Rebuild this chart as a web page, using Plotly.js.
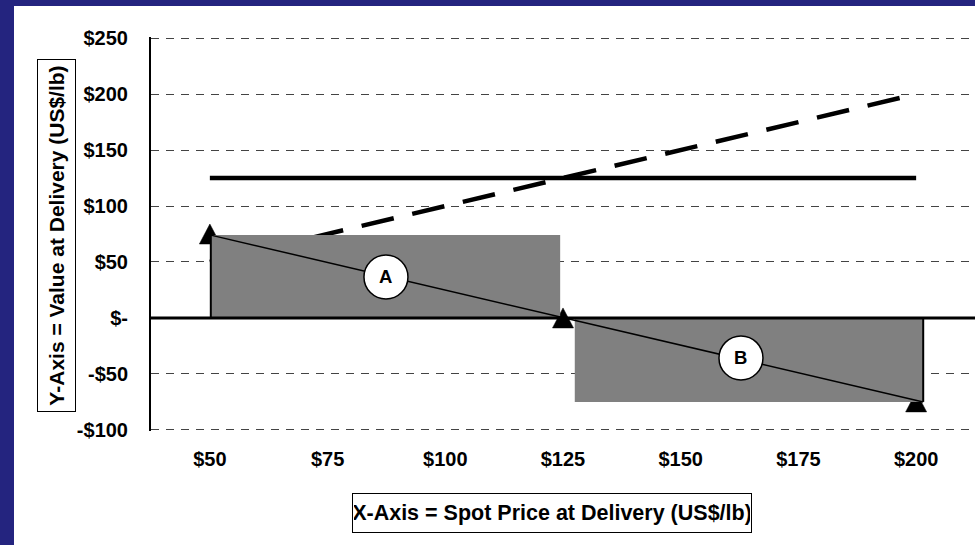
<!DOCTYPE html>
<html><head><meta charset="utf-8">
<script src="https://cdn.plot.ly/plotly-3.0.1.min.js"></script>
<style>html,body{margin:0;padding:0;background:#24247f;overflow:hidden}#chart{width:975px;height:545px}</style>
</head><body><div id="chart"></div>
<script>
// ---- data ----
const spotPrices = [50, 75, 100, 125, 150, 175, 200];
const xTickLabels = ['$50', '$75', '$100', '$125', '$150', '$175', '$200'];
const yTickValues = [250, 200, 150, 100, 50, 0, -50, -100];
const yTickLabels = ['$250', '$200', '$150', '$100', '$50', '$-', '-$50', '-$100'];

// fixed (forward) price line
const fixedX = [50, 200];
const fixedY = [125, 125];
// spot value line (dashed)
const spotX = [50, 200];
const spotY = [50, 200];
// payoff points (triangles)
const payoffX = [50, 125, 200];
const payoffY = [75, 0, -75];

// shaded regions A and B
const regionNames = ['A', 'B'];
const regionX0 = [50.2, 127.5];
const regionX1 = [124.4, 201.5];
const regionY0 = [0, -75];
const regionY1 = [74, 0];
// drawn diagonal
const diagX = [50.2, 201.5];
const diagY = [74, -75];
// label circles
const labelX = [87.4, 162.8];
const labelY = [36.6, -35.7];

// ---- layout helpers ----
const L = 151, R = 975, T = 37, B = 431;
const W = R - L, H = B - T;
const px = x => (x - L) / W;
const py = y => (B - y) / H;
const FONT = 'Liberation Sans, Arial, sans-serif';

const traces = [
  {x: fixedX, y: fixedY, mode: 'lines', line: {color: '#000', width: 4.5}, hoverinfo: 'skip'},
  {x: spotX, y: spotY, mode: 'lines', line: {color: '#000', width: 4.5, dash: '33px,19px'}, hoverinfo: 'skip'},
  // invisible points so the payoff series is part of the plotted data
  {x: payoffX, y: payoffY, mode: 'markers', marker: {size: 1, color: 'rgba(0,0,0,0)'}, hoverinfo: 'skip'}
];

const shapes = [
  // white panel over blue background
  {type: 'rect', xref: 'paper', yref: 'paper', x0: px(14), x1: px(990), y0: py(560), y1: py(6),
   fillcolor: '#ffffff', line: {width: 0}, layer: 'below'}
];
// triangle markers (drawn under the shaded regions)
payoffX.forEach((x, i) => {
  shapes.push({type: 'path', xref: 'x', yref: 'y', xsizemode: 'pixel', ysizemode: 'pixel',
    xanchor: x, yanchor: payoffY[i], path: 'M-10.5,-10 L10.5,-10 L0,10 Z',
    fillcolor: '#000', line: {color: '#000', width: 0.5}, layer: 'above'});
});
regionNames.forEach((n, i) => {
  shapes.push({type: 'rect', xref: 'x', yref: 'y', x0: regionX0[i], x1: regionX1[i], y0: regionY0[i], y1: regionY1[i],
    fillcolor: '#808080', line: {width: 0}, layer: 'above'});
});
// edge lines of the regions
shapes.push({type: 'line', xref: 'x', yref: 'y', x0: regionX0[0], x1: regionX0[0], y0: regionY0[0], y1: regionY1[0], line: {color: '#000', width: 2}, layer: 'above'});
shapes.push({type: 'line', xref: 'x', yref: 'y', x0: regionX1[1], x1: regionX1[1], y0: regionY0[1], y1: regionY1[1], line: {color: '#000', width: 2}, layer: 'above'});
// zero line
shapes.push({type: 'line', xref: 'paper', yref: 'y', x0: 0, x1: 1, y0: 0, y1: 0, line: {color: '#000', width: 3}, layer: 'above'});
// diagonal
shapes.push({type: 'line', xref: 'x', yref: 'y', x0: diagX[0], x1: diagX[1], y0: diagY[0], y1: diagY[1], line: {color: '#000', width: 1.5}, layer: 'above'});
// circles
regionNames.forEach((n, i) => {
  shapes.push({type: 'circle', xref: 'x', yref: 'y', xsizemode: 'pixel', ysizemode: 'pixel',
    xanchor: labelX[i], yanchor: labelY[i], x0: -22, x1: 22, y0: -22, y1: 22,
    fillcolor: '#ffffff', line: {color: '#000', width: 1.5}, layer: 'above'});
});

const annotations = regionNames.map((n, i) => ({
  x: labelX[i], y: labelY[i], xref: 'x', yref: 'y', text: n, showarrow: false,
  font: {family: FONT, size: 18.5, weight: 'bold', color: '#000'}
}));
annotations.push({
  xref: 'paper', yref: 'paper', x: px(551.5), y: py(513), xanchor: 'center', yanchor: 'middle',
  text: 'X-Axis = Spot Price at Delivery (US$/lb)', showarrow: false,
  font: {family: FONT, size: 21.5, weight: 'bold', color: '#000'},
  bgcolor: '#ffffff', bordercolor: '#000', borderwidth: 1, borderpad: 1, width: 396, height: 36
});
annotations.push({
  xref: 'paper', yref: 'paper', x: px(56.5), y: py(235.5), xanchor: 'center', yanchor: 'middle',
  text: 'Y-Axis = Value at Delivery (US$/lb)', showarrow: false, textangle: -90,
  font: {family: FONT, size: 21, weight: 'bold', color: '#000'},
  bgcolor: '#ffffff', bordercolor: '#000', borderwidth: 1, borderpad: 1, width: 349, height: 35
});

const layout = {
  width: 975, height: 545, autosize: false,
  margin: {l: L, r: 975 - R, t: T, b: 545 - B, pad: 0},
  paper_bgcolor: '#24247f', plot_bgcolor: 'rgba(0,0,0,0)',
  showlegend: false,
  font: {family: FONT, color: '#000'},
  xaxis: {
    range: [37.5, 212.5], showgrid: false, zeroline: false, showline: false,
    tickmode: 'array', tickvals: spotPrices, ticktext: xTickLabels, ticks: '',
    ticklabelstandoff: 14,
    tickfont: {family: FONT, size: 20, weight: 'bold', color: '#000'}, fixedrange: true
  },
  yaxis: {
    range: [-101, 251], showgrid: true, gridcolor: '#444', gridwidth: 1, griddash: '8px,7px',
    zeroline: false, showline: true, linecolor: '#000', linewidth: 2,
    tickmode: 'array', tickvals: yTickValues, ticktext: yTickLabels, ticks: '',
    ticklabelstandoff: 17,
    tickfont: {family: FONT, size: 20, weight: 'bold', color: '#000'}, fixedrange: true
  },
  shapes: shapes,
  annotations: annotations
};

Plotly.newPlot('chart', traces, layout, {displayModeBar: false, staticPlot: true});
</script>
</body></html>
